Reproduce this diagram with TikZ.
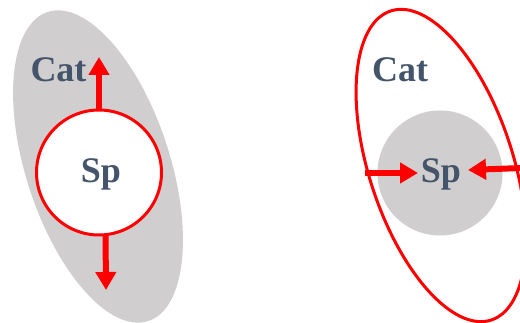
\documentclass[tikz,border=0pt]{standalone}
\usepackage{fontspec}
\setmainfont{Liberation Serif}
\usetikzlibrary{arrows.meta,shapes.geometric}
\definecolor{txt}{HTML}{44546A}
\definecolor{greyfill}{HTML}{D0CECE}
\definecolor{redc}{HTML}{FF0000}
\tikzset{
  bigellipse/.style={ellipse, inner sep=0pt, outer sep=0pt, minimum width=144pt, minimum height=325pt, rotate=18},
  spcircle/.style={circle, inner sep=0pt, outer sep=0pt, minimum size=125pt},
  label/.style={text=txt, font=\fontsize{36}{40}\selectfont\bfseries, anchor=base, inner sep=0pt},
  redarrow/.style={draw=redc, line width=6pt, -{Triangle[width=20pt,length=18pt]}}
}
\begin{document}
\begin{tikzpicture}[x=1pt,y=1pt]
\useasboundingbox (0,0) rectangle (520,323);
\clip (0,0) rectangle (520,323);
% left
\node[bigellipse, fill=greyfill] (catL) at (98,156.5) {};
\node[spcircle, fill=white, draw=redc, line width=3pt] (spL) at (99,150.5) {};
\node[label] (catLt) at (58.5,241) {Cat};
\node[label] (spLt) at (101,140) {Sp};
\coordinate (upTip) at (99,266);
\coordinate (downTip) at (106,33);
\draw[redarrow] (spL.north) -- (upTip);
\draw[redarrow] (spL.-84) -- (downTip);
% right
\node[bigellipse, fill=white, draw=redc, line width=3pt] (catR) at (441,157.5) {};
\node[spcircle, fill=greyfill] (spR) at (440,150) {};
\node[label] (catRt) at (400,241) {Cat};
\node[label] (spRt) at (441,140) {Sp};
\coordinate (leftStart) at (365,150);
\coordinate (leftTip) at (418,150);
\coordinate (rightStart) at (522,155);
\coordinate (rightTip) at (468,153);
\draw[redarrow] (leftStart) -- (leftTip);
\draw[redarrow] (rightStart) -- (rightTip);
\end{tikzpicture}
\end{document}
